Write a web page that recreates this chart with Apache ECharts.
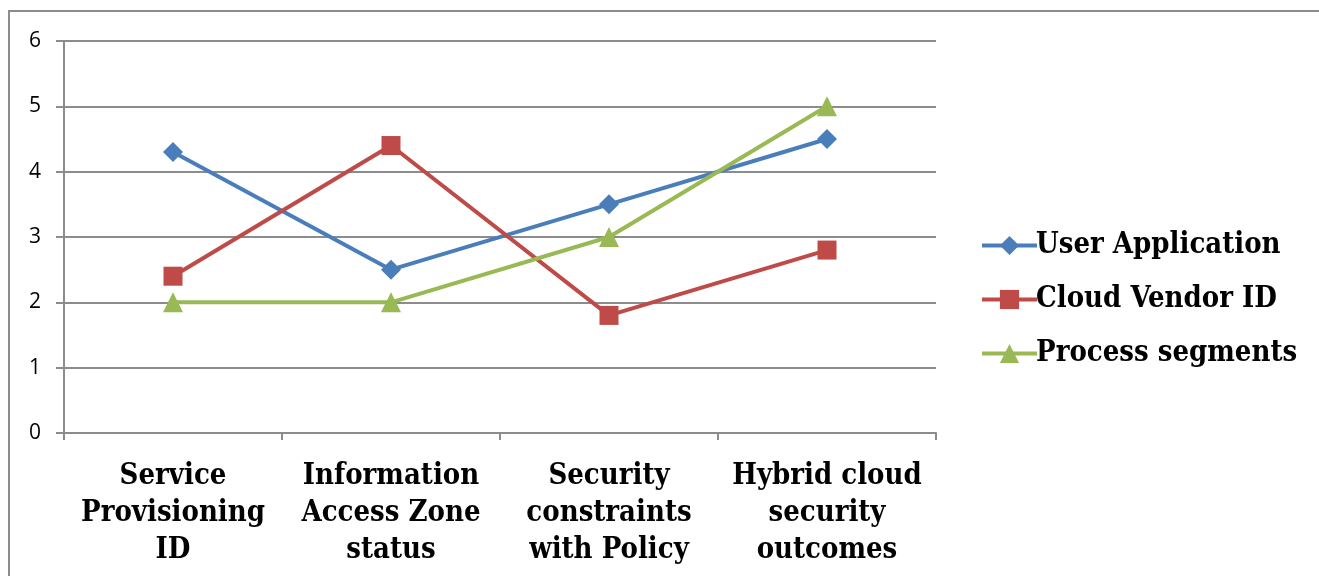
<!DOCTYPE html>
<html>
<head>
<meta charset="utf-8">
<script src="https://cdn.jsdelivr.net/npm/echarts@6/dist/echarts.min.js"></script>
<style>
  html, body { margin: 0; padding: 0; background: #fff; }
  .frame {
    position: absolute; left: 8px; top: 10px; width: 1320px; height: 580px;
    border-left: 2px solid #8c8c8c; border-top: 2px solid #8c8c8c;
  }
  #chart { position: absolute; left: 0; top: 0; width: 1319px; height: 576px; }
</style>
</head>
<body>
<div class="frame"></div>
<div id="chart"></div>
<script>
var categories = [
  'Service\nProvisioning\nID',
  'Information\nAccess Zone\nstatus',
  'Security\nconstraints\nwith Policy',
  'Hybrid cloud\nsecurity\noutcomes'
];
var userApplication = [4.3, 2.5, 3.5, 4.5];
var cloudVendorId = [2.4, 4.4, 1.8, 2.8];
var processSegments = [2, 2, 3, 5];

var serifBold = "'DejaVu Serif Condensed', 'DejaVu Serif', serif";

var chart = echarts.init(document.getElementById('chart'));
chart.setOption({
  animation: false,
  grid: { left: 64, right: 383, top: 41, bottom: 143 },
  legend: {
    orient: 'vertical',
    left: 975,
    top: 226,
    itemWidth: 55,
    itemHeight: 24,
    itemGap: 25,
    lineStyle: { width: 4 },
    textStyle: { fontFamily: serifBold, fontWeight: 'bold', fontSize: 29, color: '#000', padding: [0, 0, 0, -6] },
    data: ['User Application', 'Cloud Vendor ID', 'Process segments']
  },
  xAxis: {
    type: 'category',
    data: categories,
    boundaryGap: true,
    axisLine: { lineStyle: { color: '#8c8c8c', width: 2 } },
    axisTick: { show: true, length: 7, lineStyle: { color: '#8c8c8c', width: 2 } },
    axisLabel: {
      interval: 0, margin: 25,
      fontFamily: serifBold, fontWeight: 'bold', fontSize: 29, lineHeight: 37, color: '#000'
    }
  },
  yAxis: {
    type: 'value',
    min: 0, max: 6, interval: 1,
    axisLine: { show: true, lineStyle: { color: '#8c8c8c', width: 2 } },
    axisTick: { show: true, inside: false, length: 8, lineStyle: { color: '#8c8c8c', width: 2 } },
    splitLine: { lineStyle: { color: '#8c8c8c', width: 2 } },
    axisLabel: { margin: 23, fontFamily: "'Open Sans', 'Noto Sans', sans-serif", fontSize: 21, color: '#000' }
  },
  series: [
    {
      name: 'User Application', type: 'line', data: userApplication,
      symbol: 'diamond', symbolSize: 20,
      itemStyle: { color: '#4a7ebb' }, lineStyle: { width: 4, color: '#4a7ebb' }
    },
    {
      name: 'Cloud Vendor ID', type: 'line', data: cloudVendorId,
      symbol: 'rect', symbolSize: 19,
      itemStyle: { color: '#be4b48' }, lineStyle: { width: 4, color: '#be4b48' }
    },
    {
      name: 'Process segments', type: 'line', data: processSegments,
      symbol: 'triangle', symbolSize: 20,
      itemStyle: { color: '#98b954' }, lineStyle: { width: 4, color: '#98b954' }
    }
  ]
});
</script>
</body>
</html>
